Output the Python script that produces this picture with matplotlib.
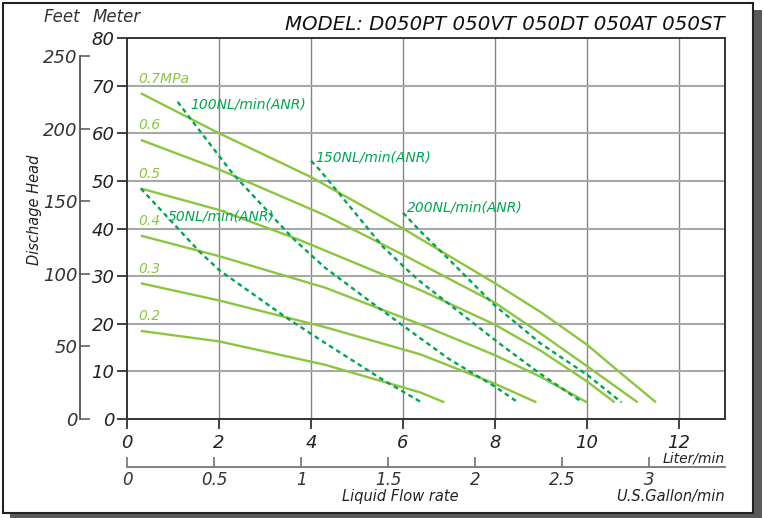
import matplotlib.pyplot as plt
from matplotlib.patches import Rectangle

plt.rcParams['font.family'] = ['DejaVu Sans']
plt.rcParams['font.style'] = 'italic'

# pump performance at each air supply pressure (flow L/min, head m)
pressure_labels = ['0.7MPa', '0.6', '0.5', '0.4', '0.3', '0.2']
flow_07 = [0.3, 2.0, 4.0, 6.0, 8.0, 9.0, 10.0, 10.7, 11.5]
head_07 = [68.4, 60.0, 50.8, 40.0, 28.5, 22.4, 15.6, 9.9, 3.5]
flow_06 = [0.3, 2.0, 4.3, 6.0, 8.0, 9.0, 10.0, 11.1]
head_06 = [58.6, 52.4, 42.8, 34.5, 24.4, 17.9, 11.1, 3.5]
flow_05 = [0.3, 2.0, 3.75, 6.37, 8.0, 9.0, 10.0, 10.6]
head_05 = [48.4, 43.9, 37.6, 27.1, 19.8, 14.3, 7.9, 3.5]
flow_04 = [0.3, 2.0, 4.3, 6.37, 8.0, 9.0, 10.0]
head_04 = [38.5, 34.2, 27.6, 19.9, 13.4, 8.8, 3.5]
flow_03 = [0.3, 2.0, 4.3, 6.37, 8.0, 8.9]
head_03 = [28.5, 24.9, 19.3, 13.6, 7.4, 3.5]
flow_02 = [0.3, 2.0, 4.3, 6.37, 6.9]
head_02 = [18.5, 16.3, 11.4, 5.6, 3.5]

# air consumption lines
air_labels = ['50NL/min(ANR)', '100NL/min(ANR)', '150NL/min(ANR)', '200NL/min(ANR)']
flow_50 = [0.3, 1.58, 2.0, 3.43, 4.3, 5.6, 6.4]
head_50 = [48.4, 35.1, 31.3, 21.5, 16.0, 8.0, 3.5]
flow_100 = [1.1, 1.4, 2.3, 3.61, 4.3, 5.49, 6.37, 7.0, 8.0, 8.5]
head_100 = [66.6, 62.8, 51.5, 37.9, 31.8, 23.2, 17.0, 12.6, 6.8, 3.5]
flow_150 = [4.0, 4.19, 5.56, 6.07, 6.37, 8.09, 8.97, 9.9]
head_150 = [54.2, 52.3, 36.2, 31.5, 28.9, 15.9, 9.6, 3.5]
flow_200 = [6.0, 6.37, 7.0, 8.0, 9.0, 10.0, 10.75]
head_200 = [43.3, 39.5, 33.5, 23.8, 15.8, 9.3, 3.5]

M_TO_FT = 3.2808
L_PER_GAL = 3.7854

W, H = 764, 518
fig = plt.figure(figsize=(W / 100, H / 100), dpi=100)

# frame with drop shadow
fig.patches.append(Rectangle((10 / W, 0), 752 / W, 508 / H, transform=fig.transFigure,
                             facecolor='#5a5a5a', edgecolor='none', zorder=-2))
fig.patches.append(Rectangle((3 / W, 5 / H), 750 / W, 510 / H, transform=fig.transFigure,
                             facecolor='white', edgecolor='#222222', lw=1.5, zorder=-1))

ax = fig.add_axes([127 / W, 1 - 419 / H, 598 / W, 381 / H])
ax.set_zorder(2)
ax.set_facecolor('none')
ax.set_xlim(0, 13)
ax.set_ylim(0, 80)

for x in range(2, 13, 2):
    ax.axvline(x, color='#858585', lw=1.0, zorder=1)
for y in range(10, 80, 10):
    ax.axhline(y, color='#a8a8a8', lw=1.5, zorder=1)

solid = '#8cc63f'
dash = '#00a651'
curves = [(flow_07, head_07), (flow_06, head_06), (flow_05, head_05),
          (flow_04, head_04), (flow_03, head_03), (flow_02, head_02)]
for (fx, hy), lab in zip(curves, pressure_labels):
    ax.plot(fx, hy, color=solid, lw=1.7, zorder=3, solid_capstyle='butt', solid_joinstyle='round')
    ax.text(fx[0] - 0.05, hy[0] + 1.6, lab, color=solid, fontsize=10, va='bottom', ha='left')

air = [(flow_50, head_50), (flow_100, head_100), (flow_150, head_150), (flow_200, head_200)]
for fx, hy in air:
    ax.plot(fx, hy, color=dash, lw=1.7, ls=(0, (2, 1.6)), zorder=4)

ax.text(0.88, 42.5, air_labels[0], color=dash, fontsize=10, va='center', ha='left', zorder=5)
ax.text(1.38, 66.0, air_labels[1], color=dash, fontsize=10, va='center', ha='left', zorder=5)
ax.text(4.1, 55.0, air_labels[2], color=dash, fontsize=10, va='center', ha='left', zorder=5)
ax.text(6.08, 44.4, air_labels[3], color=dash, fontsize=10, va='center', ha='left', zorder=5)

for s in ax.spines.values():
    s.set_color('#333333')
    s.set_linewidth(1.4)
ax.set_xticks(range(0, 13, 2))
ax.set_yticks(range(0, 81, 10))
ax.tick_params(axis='both', direction='out', length=7, width=1.3, color='#333333',
               labelsize=13, labelcolor='#222222')
ax.tick_params(axis='x', pad=4)
ax.tick_params(axis='y', pad=2)

# U.S. gallon scale under the litre scale
gal = ax.secondary_xaxis((419 - 467) / 381, functions=(lambda v: v / L_PER_GAL, lambda v: v * L_PER_GAL))
gal.set_xticks([0, 0.5, 1, 1.5, 2, 2.5, 3])
gal.set_xticklabels(['0', '0.5', '1', '1.5', '2', '2.5', '3'])
gal.tick_params(direction='in', length=7, width=1.1, color='#666666', labelsize=12,
                labelcolor='#333333', pad=3)
gal.spines['bottom'].set_color('#777777')
gal.spines['bottom'].set_linewidth(1.3)

# feet scale to the left of the metre scale
ft = ax.secondary_yaxis((80 - 127) / 598, functions=(lambda v: v * M_TO_FT, lambda v: v / M_TO_FT))
ft.set_yticks([0, 50, 100, 150, 200, 250])
ft.tick_params(direction='in', length=7, width=1.1, color='#555555', labelsize=13,
               labelcolor='#333333', pad=2)
ft.spines['left'].set_bounds(0, 250)
ft.spines['left'].set_color('#555555')
ft.spines['left'].set_linewidth(1.3)

fig.text(725 / W, 1 - 25 / H, 'MODEL: D050PT 050VT 050DT 050AT 050ST', fontsize=14.2,
         ha='right', va='center', color='#111111')
fig.text(62 / W, 1 - 17 / H, 'Feet', fontsize=12, ha='center', va='center', color='#333333')
fig.text(117 / W, 1 - 17 / H, 'Meter', fontsize=12, ha='center', va='center', color='#333333')
fig.text(35 / W, 1 - 210 / H, 'Dischage Head', fontsize=10.5, rotation=90,
         ha='center', va='center', color='#222222')
fig.text(725 / W, 1 - 459 / H, 'Liter/min', fontsize=10, ha='right', va='center', color='#222222')
fig.text(400 / W, 1 - 496 / H, 'Liquid Flow rate', fontsize=10.5, ha='center', va='center', color='#222222')
fig.text(725 / W, 1 - 496 / H, 'U.S.Gallon/min', fontsize=10.5, ha='right', va='center', color='#222222')

fig.savefig('out.png', dpi=100)
